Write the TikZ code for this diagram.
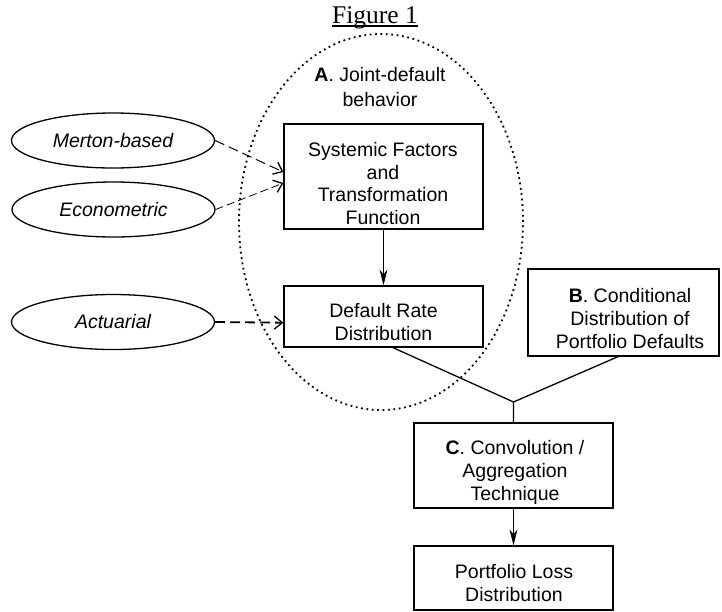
\documentclass[tikz,border=0pt]{standalone}
\usepackage{fontspec}
\setmainfont{Liberation Sans}
\newfontfamily\figserif{Liberation Serif}
\usetikzlibrary{arrows.meta,shapes.geometric,calc}
\begin{document}
\begin{tikzpicture}[x=1pt,y=-1pt,
  box/.style={draw,line width=1.3pt,inner sep=0pt},
  lbl/.style={align=center,inner sep=0pt,font=\fontsize{19.5}{22.8}\selectfont},
  oval/.style={draw,ellipse,line width=1.3pt,minimum width=203pt,minimum height=55pt,inner sep=0pt,font=\fontsize{19.5}{22.8}\selectfont\itshape},
  flow/.style={line width=1.3pt,-{Stealth[length=16pt,width=8pt,inset=5pt]}},
  feed/.style={-{Straight Barb[length=8pt,width=13pt,line width=1.3pt]}},
  joinline/.style={line width=1.3pt},
  zonestyle/.style={draw,ellipse,line width=1.8pt,dash pattern=on 1.8pt off 3.6pt,inner sep=0pt}]
\useasboundingbox (0,0) rectangle (722,611);

% title
\node[anchor=base,inner sep=0pt,font=\figserif\fontsize{25.5}{30}\selectfont] (fig) at (375,23) {Figure 1};
\draw[line width=1.4pt] ([yshift=-3pt]fig.base west) -- ([yshift=-3pt]fig.base east);

% dotted zone A
\node[zonestyle,minimum width=284pt,minimum height=376pt] (zone) at (381,222) {};
\node[lbl,font=\fontsize{19.5}{25}\selectfont] (zonetxt) at (380,87.5) {\textbf{A}. Joint-default\\behavior};

% boxes
\node[box,minimum width=199pt,minimum height=105pt] (sys) at (383.5,176.5) {};
\node[lbl] (systxt) at (383,183.5) {Systemic Factors\\and\\Transformation\\Function};
\node[box,minimum width=199pt,minimum height=61pt] (def) at (383.5,316.5) {};
\node[lbl] (deftxt) at (383.5,322.3) {Default Rate\\Distribution};
\node[box,minimum width=191pt,minimum height=87pt] (condB) at (623.5,312.5) {};
\node[lbl] (condBtxt) at (630,318.5) {\textbf{B}. Conditional\\Distribution of\\Portfolio Defaults};
\node[box,minimum width=199pt,minimum height=85pt] (conv) at (513.5,465.5) {};
\node[lbl] (convtxt) at (515,472.5) {\textbf{C}. Convolution /\\Aggregation\\Technique};
\node[box,minimum width=199pt,minimum height=64pt] (loss) at (513.5,578) {};
\node[lbl] (losstxt) at (514,583) {Portfolio Loss\\Distribution};

% ovals
\node[oval] (merton) at (113,140.5) {Merton-based};
\node[oval] (econ) at (113.5,209.5) {Econometric};
\node[oval] (act) at (113,322) {Actuarial};

% connectors
\draw[flow] (sys.south) -- (def.north);
\draw[flow] (conv.south) -- (loss.north);
\coordinate (j) at (513.5,402);
\draw[joinline] ([xshift=9.5pt]def.south) -- (j) -- (conv.north);
\draw[joinline] ([xshift=-5.5pt]condB.south) -- (j);

\draw[feed,line width=1pt,dash pattern=on 10pt off 5pt] (merton.east) -- ([yshift=4.5pt]sys.west);
\draw[feed,line width=0.8pt,dash pattern=on 8pt off 4pt] (econ.east) -- ([yshift=-6.5pt]sys.west);
\draw[feed,line width=1.8pt,dash pattern=on 10pt off 5pt] (act.east) -- ([yshift=-6.2pt]def.west);
\end{tikzpicture}
\end{document}
